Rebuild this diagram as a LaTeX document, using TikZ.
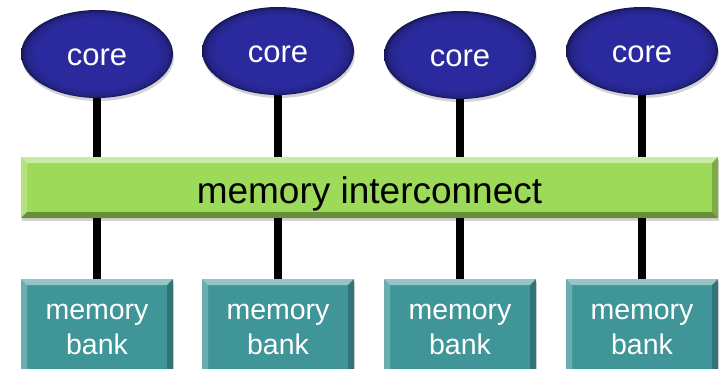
\documentclass[tikz,border=0pt]{standalone}
\usepackage{fontspec}
\setmainfont{Liberation Sans}
\usepackage{tikz}
\usetikzlibrary{positioning,shapes.geometric,shadows}

\definecolor{coreblue}{RGB}{42,42,158}
\definecolor{busgreen}{RGB}{158,218,90}
\definecolor{bankteal}{RGB}{64,149,153}

% flat centre, darker rim for the cores
\pgfdeclareradialshading{corerim}{\pgfpoint{0bp}{0bp}}{%
  color(0bp)=(coreblue); color(20bp)=(coreblue); color(23.5bp)=(coreblue!85!black);
  color(25bp)=(coreblue!55!black); color(50bp)=(coreblue!55!black)}

\tikzset{%
  bevel/.style args={#1 and #2}{path picture={%
    \coordinate (bnw) at (path picture bounding box.north west);
    \coordinate (bse) at (path picture bounding box.south east);
    \coordinate (bne) at (bnw -| bse);
    \coordinate (bsw) at (bnw |- bse);
    \fill[#1] (bnw) -- (bne) -- ([shift={(-6pt,-6pt)}]bne) -- ([shift={(6pt,-6pt)}]bnw) -- cycle; % top
    \fill[#1,opacity=.5] (bnw) -- ([shift={(6pt,-6pt)}]bnw) -- ([shift={(6pt,6pt)}]bsw) -- (bsw) -- cycle; % left
    \fill[#2,opacity=.6] (bne) -- (bse) -- ([shift={(-6pt,6pt)}]bse) -- ([shift={(-6pt,-6pt)}]bne) -- cycle; % right
    \fill[#2] (bsw) -- ([shift={(6pt,6pt)}]bsw) -- ([shift={(-6pt,6pt)}]bse) -- (bse) -- cycle; % bottom
  }},
  softshadow/.style={drop shadow={opacity=.35,shadow xshift=1pt,shadow yshift=-3pt}},
  corenode/.style={ellipse,minimum width=152pt,minimum height=88pt,inner sep=0pt,
    shading=corerim,softshadow,text=white,text height=22pt,text depth=0pt,
    font=\fontsize{31}{37}\selectfont},
  busbar/.style={rectangle,minimum width=697pt,minimum height=61pt,inner sep=0pt,
    fill=busgreen,bevel=busgreen!55!white and busgreen!65!black,softshadow,
    text height=31pt,text depth=0pt,font=\fontsize{37}{44}\selectfont},
  bankbox/.style={rectangle,minimum width=152pt,minimum height=100pt,inner sep=0pt,
    fill=bankteal,bevel=bankteal!55!white and bankteal!65!black,softshadow,
    text=white,align=center,font=\fontsize{28.5}{35}\selectfont},
  wire/.style={line width=7.5pt}
}

\begin{document}
\begin{tikzpicture}[x=1pt,y=1pt]
    \useasboundingbox (0,0) rectangle (723,368);

    % interconnect across the middle
    \node[busbar] (bus) at (369.5,180.5) {memory interconnect};

    % one column per core: core on top, bank below
    \foreach \i/\xc/\yc in {1/97/314, 2/278/317, 3/460/313, 4/642/317}
        {
        \node[corenode] (core\i) at (\xc,\yc) {core};
        \node[bankbox,anchor=north] (bank\i) at (\xc,89) {memory\\bank};
        \draw[wire] (core\i) -- (core\i |- bus.north);
        \draw[wire] (bank\i) -- (bank\i |- bus.south);
        }

\end{tikzpicture}
\end{document}
